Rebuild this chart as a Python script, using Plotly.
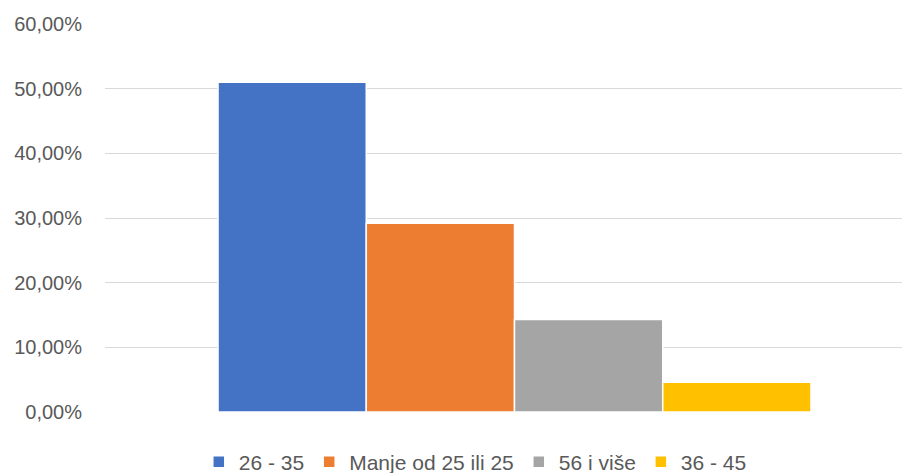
import plotly.graph_objects as go

# starosne grupe i udjeli
grupe = ["26 - 35", "Manje od 25 ili 25", "56 i više", "36 - 45"]
udjeli = [0.510, 0.292, 0.143, 0.046]
boje = ["#4472C4", "#ED7D31", "#A5A5A5", "#FFC000"]
y_tickovi = [0, 0.1, 0.2, 0.3, 0.4, 0.5, 0.6]

fig = go.Figure()
for grupa, udio, boja in zip(grupe, udjeli, boje):
    fig.add_trace(go.Bar(
        x=[0], y=[udio], name=grupa,
        marker=dict(color=boja, line=dict(color="white", width=1.5)),
    ))

# stranica ima 8px margine na body elementu, pa je slika za toliko manja
fig.update_layout(
    width=902, height=465,
    margin=dict(l=97, r=0, t=16, b=61, autoexpand=False),
    plot_bgcolor="white", paper_bgcolor="white",
    barmode="group", bargap=0.2634, bargroupgap=0,
    separators=",.",
    font=dict(family="Liberation Sans, Arial, sans-serif", size=20, color="#595959"),
    showlegend=True,
    legend=dict(
        orientation="h", x=0.46, xanchor="center", y=-0.129, yanchor="middle",
        font=dict(size=21, color="#595959"), itemwidth=30, traceorder="normal",
    ),
)
fig.update_xaxes(range=[-0.5087, 0.4913], showticklabels=False, showgrid=False,
                 zeroline=False, showline=False, automargin=False)
fig.update_yaxes(range=[0, 0.6], tickvals=y_tickovi, tickformat=".2%",
                 showgrid=True, gridcolor="#D9D9D9", gridwidth=1,
                 zeroline=False, showline=False, ticklabelstandoff=22,
                 automargin=False)

fig.write_html("out.html")
